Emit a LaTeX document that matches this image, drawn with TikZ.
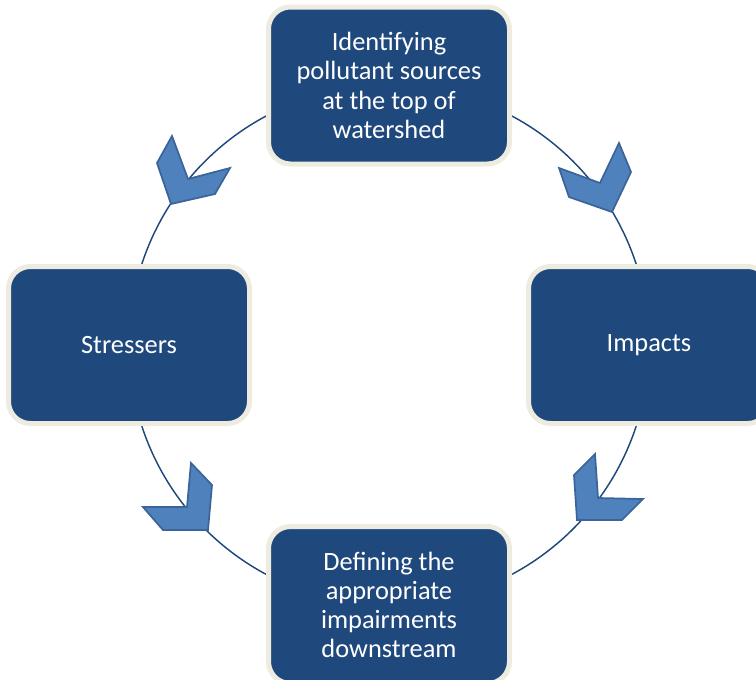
\documentclass[tikz,border=0pt]{standalone}
\usepackage{fontspec}
\setmainfont{Carlito}
\usetikzlibrary{backgrounds}
\definecolor{navy}{HTML}{1F497D}
\definecolor{cream}{HTML}{EEECE1}
\definecolor{sky}{HTML}{4F81BD}
\definecolor{skyline}{HTML}{3B6499}
\tikzstyle{stage} = [draw=cream, line width=3.75pt, fill=navy, rectangle, rounded corners=16.5pt, minimum width=180.75pt, minimum height=117.75pt, text=white, text centered, align=center, font=\fontsize{19.8}{21.9}\selectfont]
\tikzstyle{ring} = [draw=navy, line width=1.1pt]
\tikzstyle{chevron} = [draw=skyline, line width=1.3pt, fill=sky, line join=miter]

\begin{document}
\begin{tikzpicture}[x=0.75pt, y=-0.75pt]
    \useasboundingbox (0,0) rectangle (756,679);
    \clip (0,0) rectangle (756,679);
    \draw (389,85.5) node[stage] (T) {Identifying \\ pollutant sources \\ at the top of \\ watershed};
    \draw (129,345)  node[stage] (L) {Stressers};
    \draw (649,345)  node[stage] (R) {Impacts};
    \draw (389,605)  node[stage] (B) {Defining the \\ appropriate \\ impairments \\ downstream};
    \begin{scope}[on background layer]
        \draw[ring] (T.center) to[bend right=45] (L.center);
        \draw[ring] (L.center) to[bend right=45] (B.center);
        \draw[ring] (B.center) to[bend right=45] (R.center);
        \draw[ring] (R.center) to[bend right=45] (T.center);
    \end{scope}
    \draw[chevron] (172,136) -- (157,163) -- (171,204) -- (215,194) -- (230,168) -- (188,179) -- cycle;
    \draw[chevron] (619,143) -- (631,172) -- (612,212) -- (569,197) -- (559,168) -- (600,183) -- cycle;
    \draw[chevron] (191,463) -- (212,485) -- (208,530) -- (163,530) -- (143,507) -- (187,507) -- cycle;
    \draw[chevron] (595,454) -- (574,475) -- (577,520) -- (622,520) -- (643,499) -- (598,498) -- cycle;
\end{tikzpicture}
\end{document}
